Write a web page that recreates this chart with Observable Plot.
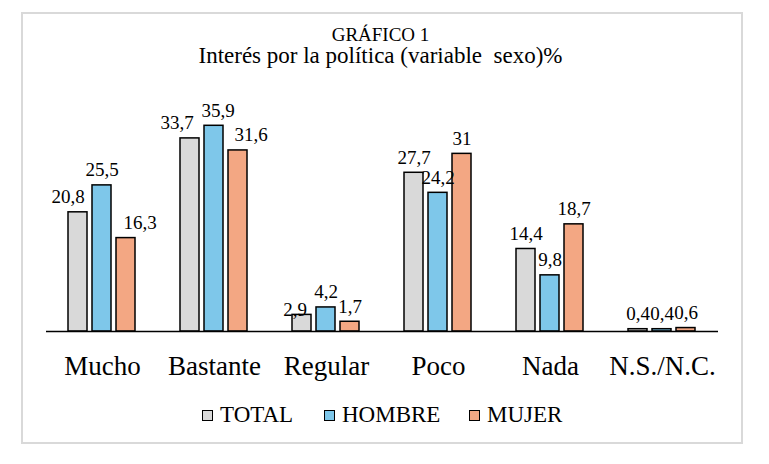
<!DOCTYPE html>
<html>
<head>
<meta charset="utf-8">
<script src="https://cdn.jsdelivr.net/npm/d3@7"></script>
<script src="https://cdn.jsdelivr.net/npm/@observablehq/plot@0.6"></script>
<style>
  html, body { margin: 0; padding: 0; background: #fff; }
  body { width: 769px; height: 464px; position: relative; overflow: hidden; font-family: 'Liberation Serif', 'Times New Roman', serif; color: #000; }
  #frame { position: absolute; left: 21px; top: 12px; width: 722px; height: 432px; box-sizing: border-box; border: 2px solid #d9d9d9; }
  .t1 { position: absolute; left: 0; width: 761px; text-align: center; white-space: pre; font-family: 'Liberation Serif', serif; }
  #chart { position: absolute; left: 0; top: 0; }
  .leg { position: absolute; top: 403px; font-size: 23px; line-height: 23px; white-space: nowrap; font-family: 'Liberation Serif', serif; }
  .sw { display: inline-block; width: 9px; height: 9px; border: 1.5px solid #000; margin-right: 7px; vertical-align: 1px; }
</style>
</head>
<body>
<div id="frame"></div>
<div class="t1" style="top:24px;font-size:19px;line-height:22px;">GRÁFICO 1</div>
<div class="t1" style="top:43px;font-size:23px;line-height:26px;">Interés por la política (variable  sexo)%</div>
<div id="chart"></div>
<div id="legend"></div>
<script>
const categories = ["Mucho", "Bastante", "Regular", "Poco", "Nada", "N.S./N.C."];
const series = ["TOTAL", "HOMBRE", "MUJER"];
const totalValues = [20.8, 33.7, 2.9, 27.7, 14.4, 0.4];
const hombreValues = [25.5, 35.9, 4.2, 24.2, 9.8, 0.4];
const mujerValues = [16.3, 31.6, 1.7, 31, 18.7, 0.6];

const colors = ["#d9d9d9", "#7ec7ea", "#f3a783"];
const serif = "'Liberation Serif', 'Times New Roman', serif";
// label nudges (style only), as in the original layout
const nudges = {
  "Mucho|TOTAL": [-10, 0], "Mucho|MUJER": [14, 0],
  "Bastante|TOTAL": [-13, 0], "Bastante|HOMBRE": [4, 0], "Bastante|MUJER": [13, 0],
  "Regular|TOTAL": [-7, 10]
};

const valuesBySeries = [totalValues, hombreValues, mujerValues];
const data = [];
categories.forEach((c, i) => {
  series.forEach((s, j) => {
    data.push({category: c, series: s, value: valuesBySeries[j][i]});
  });
});
const fmt = v => String(v).replace(".", ",");
const key = d => d.category + "|" + d.series;

const labelCommon = {
  fx: "category", x: "series", y: "value",
  text: d => fmt(d.value),
  lineAnchor: "bottom", fontSize: 19, fill: "#000", fontFamily: serif
};
const labelMarks = [
  Plot.text(data, {...labelCommon, filter: d => !(key(d) in nudges), dy: -9})
];
for (const [k, [dx, dy]] of Object.entries(nudges)) {
  labelMarks.push(Plot.text(data, {...labelCommon, filter: d => key(d) === k, dx, dy: -9 + dy}));
}

const chart = Plot.plot({
  width: 769,
  height: 400,
  marginLeft: 44,
  marginRight: 50,
  marginTop: 101.8,
  marginBottom: 69,
  style: {fontFamily: serif, background: "transparent", color: "#000", overflow: "visible"},
  fx: {domain: categories, padding: 0, label: null, axis: null},
  x: {domain: series, paddingInner: 0.2, paddingOuter: 0.85, axis: null},
  y: {domain: [0, 40], axis: null},
  color: {domain: series, range: colors},
  marks: [
    Plot.barY(data, {fx: "category", x: "series", y: "value", fill: "series", stroke: "#000", strokeWidth: 1.5, inset: 0}),
    Plot.ruleY([0], {stroke: "#000", strokeWidth: 1.5}),
    ...labelMarks,
    Plot.axisFx({anchor: "bottom", fontSize: 27, tickSize: 0, tickPadding: 24, label: null, fontFamily: serif})
  ]
});
document.getElementById("chart").appendChild(chart);

const legendLefts = [202, 324, 469];
const legend = document.getElementById("legend");
series.forEach((s, i) => {
  const item = document.createElement("div");
  item.className = "leg";
  item.style.left = legendLefts[i] + "px";
  const sw = document.createElement("span");
  sw.className = "sw";
  sw.style.background = colors[i];
  item.appendChild(sw);
  item.appendChild(document.createTextNode(s));
  legend.appendChild(item);
});
</script>
</body>
</html>
